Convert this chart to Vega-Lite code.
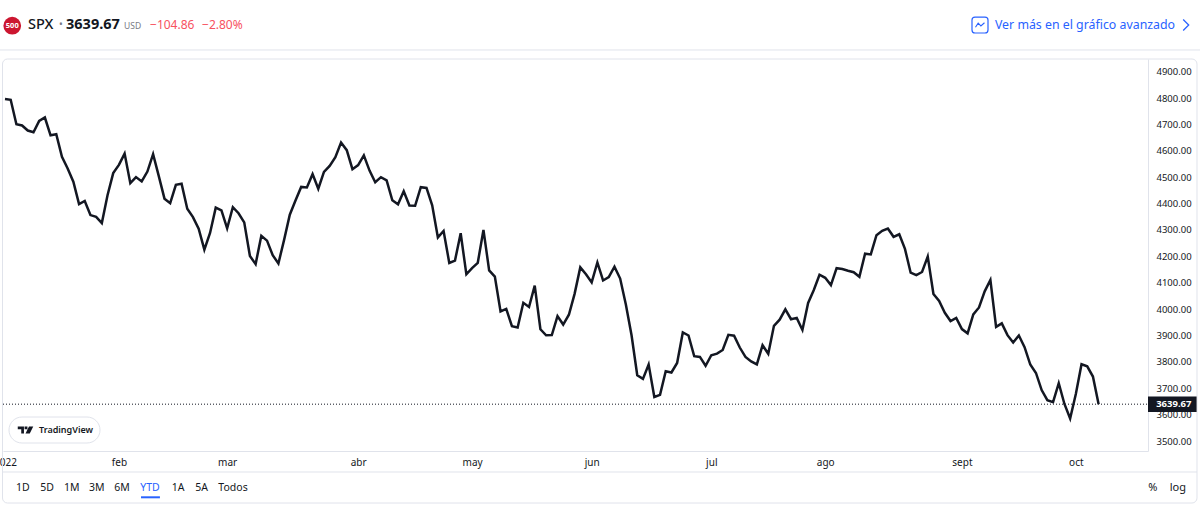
{
  "$schema": "https://vega.github.io/schema/vega-lite/v6.json",
  "description": "SPX year to date, TradingView widget",
  "background": "#ffffff",
  "autosize": {"type": "none"},
  "padding": {"top": 59, "right": 52, "bottom": 57, "left": 3},
  "width": 1145,
  "height": 392,
  "config": {
    "view": {"stroke": null},
    "text": {"font": "Noto Sans", "baseline": "middle", "align": "left"}
  },
  "datasets": {
    "one": [{}],
    "spx": [
      {"session":0,"date":"2022-01-03","close":4796.56},{"session":1,"date":"2022-01-04","close":4793.54},{"session":2,"date":"2022-01-05","close":4700.58},{"session":3,"date":"2022-01-06","close":4696.05},{"session":4,"date":"2022-01-07","close":4677.03},
      {"session":5,"date":"2022-01-10","close":4670.29},{"session":6,"date":"2022-01-11","close":4713.07},{"session":7,"date":"2022-01-12","close":4726.35},{"session":8,"date":"2022-01-13","close":4659.03},{"session":9,"date":"2022-01-14","close":4662.85},
      {"session":10,"date":"2022-01-18","close":4577.11},{"session":11,"date":"2022-01-19","close":4532.76},{"session":12,"date":"2022-01-20","close":4482.73},{"session":13,"date":"2022-01-21","close":4397.94},{"session":14,"date":"2022-01-24","close":4410.13},
      {"session":15,"date":"2022-01-25","close":4356.45},{"session":16,"date":"2022-01-26","close":4349.93},{"session":17,"date":"2022-01-27","close":4326.51},{"session":18,"date":"2022-01-28","close":4431.85},{"session":19,"date":"2022-01-31","close":4515.55},
      {"session":20,"date":"2022-02-01","close":4546.54},{"session":21,"date":"2022-02-02","close":4589.38},{"session":22,"date":"2022-02-03","close":4477.44},{"session":23,"date":"2022-02-04","close":4500.53},{"session":24,"date":"2022-02-07","close":4483.87},
      {"session":25,"date":"2022-02-08","close":4521.54},{"session":26,"date":"2022-02-09","close":4587.18},{"session":27,"date":"2022-02-10","close":4504.08},{"session":28,"date":"2022-02-11","close":4418.64},{"session":29,"date":"2022-02-14","close":4401.67},
      {"session":30,"date":"2022-02-15","close":4471.07},{"session":31,"date":"2022-02-16","close":4475.01},{"session":32,"date":"2022-02-17","close":4380.26},{"session":33,"date":"2022-02-18","close":4348.87},{"session":34,"date":"2022-02-22","close":4304.76},
      {"session":35,"date":"2022-02-23","close":4225.5},{"session":36,"date":"2022-02-24","close":4288.7},{"session":37,"date":"2022-02-25","close":4384.65},{"session":38,"date":"2022-02-28","close":4373.94},{"session":39,"date":"2022-03-01","close":4306.26},
      {"session":40,"date":"2022-03-02","close":4386.54},{"session":41,"date":"2022-03-03","close":4363.49},{"session":42,"date":"2022-03-04","close":4328.87},{"session":43,"date":"2022-03-07","close":4201.09},{"session":44,"date":"2022-03-08","close":4170.7},
      {"session":45,"date":"2022-03-09","close":4277.88},{"session":46,"date":"2022-03-10","close":4259.52},{"session":47,"date":"2022-03-11","close":4204.31},{"session":48,"date":"2022-03-14","close":4173.11},{"session":49,"date":"2022-03-15","close":4262.45},
      {"session":50,"date":"2022-03-16","close":4357.86},{"session":51,"date":"2022-03-17","close":4411.67},{"session":52,"date":"2022-03-18","close":4463.12},{"session":53,"date":"2022-03-21","close":4461.18},{"session":54,"date":"2022-03-22","close":4511.61},
      {"session":55,"date":"2022-03-23","close":4456.24},{"session":56,"date":"2022-03-24","close":4520.16},{"session":57,"date":"2022-03-25","close":4543.06},{"session":58,"date":"2022-03-28","close":4575.52},{"session":59,"date":"2022-03-29","close":4631.6},
      {"session":60,"date":"2022-03-30","close":4602.45},{"session":61,"date":"2022-03-31","close":4530.41},{"session":62,"date":"2022-04-01","close":4545.86},{"session":63,"date":"2022-04-04","close":4582.64},{"session":64,"date":"2022-04-05","close":4525.12},
      {"session":65,"date":"2022-04-06","close":4481.15},{"session":66,"date":"2022-04-07","close":4500.21},{"session":67,"date":"2022-04-08","close":4488.28},{"session":68,"date":"2022-04-11","close":4412.53},{"session":69,"date":"2022-04-12","close":4397.45},
      {"session":70,"date":"2022-04-13","close":4446.59},{"session":71,"date":"2022-04-14","close":4392.59},{"session":72,"date":"2022-04-18","close":4391.69},{"session":73,"date":"2022-04-19","close":4462.21},{"session":74,"date":"2022-04-20","close":4459.45},
      {"session":75,"date":"2022-04-21","close":4393.66},{"session":76,"date":"2022-04-22","close":4271.78},{"session":77,"date":"2022-04-25","close":4296.12},{"session":78,"date":"2022-04-26","close":4175.2},{"session":79,"date":"2022-04-27","close":4183.96},
      {"session":80,"date":"2022-04-28","close":4287.5},{"session":81,"date":"2022-04-29","close":4131.93},{"session":82,"date":"2022-05-02","close":4155.38},{"session":83,"date":"2022-05-03","close":4175.48},{"session":84,"date":"2022-05-04","close":4300.17},
      {"session":85,"date":"2022-05-05","close":4146.87},{"session":86,"date":"2022-05-06","close":4123.34},{"session":87,"date":"2022-05-09","close":3991.24},{"session":88,"date":"2022-05-10","close":4001.05},{"session":89,"date":"2022-05-11","close":3935.18},
      {"session":90,"date":"2022-05-12","close":3930.08},{"session":91,"date":"2022-05-13","close":4023.89},{"session":92,"date":"2022-05-16","close":4008.01},{"session":93,"date":"2022-05-17","close":4088.85},{"session":94,"date":"2022-05-18","close":3923.68},
      {"session":95,"date":"2022-05-19","close":3900.79},{"session":96,"date":"2022-05-20","close":3901.36},{"session":97,"date":"2022-05-23","close":3973.75},{"session":98,"date":"2022-05-24","close":3941.48},{"session":99,"date":"2022-05-25","close":3978.73},
      {"session":100,"date":"2022-05-26","close":4057.84},{"session":101,"date":"2022-05-27","close":4158.24},{"session":102,"date":"2022-05-31","close":4132.15},{"session":103,"date":"2022-06-01","close":4101.23},{"session":104,"date":"2022-06-02","close":4176.82},
      {"session":105,"date":"2022-06-03","close":4108.54},{"session":106,"date":"2022-06-06","close":4121.43},{"session":107,"date":"2022-06-07","close":4160.68},{"session":108,"date":"2022-06-08","close":4115.77},{"session":109,"date":"2022-06-09","close":4017.82},
      {"session":110,"date":"2022-06-10","close":3900.86},{"session":111,"date":"2022-06-13","close":3749.63},{"session":112,"date":"2022-06-14","close":3735.48},{"session":113,"date":"2022-06-15","close":3789.99},{"session":114,"date":"2022-06-16","close":3666.77},
      {"session":115,"date":"2022-06-17","close":3674.84},{"session":116,"date":"2022-06-21","close":3764.79},{"session":117,"date":"2022-06-22","close":3759.89},{"session":118,"date":"2022-06-23","close":3795.73},{"session":119,"date":"2022-06-24","close":3911.74},
      {"session":120,"date":"2022-06-27","close":3900.11},{"session":121,"date":"2022-06-28","close":3821.55},{"session":122,"date":"2022-06-29","close":3818.83},{"session":123,"date":"2022-06-30","close":3785.38},{"session":124,"date":"2022-07-01","close":3825.33},
      {"session":125,"date":"2022-07-05","close":3831.39},{"session":126,"date":"2022-07-06","close":3845.08},{"session":127,"date":"2022-07-07","close":3902.62},{"session":128,"date":"2022-07-08","close":3899.38},{"session":129,"date":"2022-07-11","close":3854.43},
      {"session":130,"date":"2022-07-12","close":3818.8},{"session":131,"date":"2022-07-13","close":3801.78},{"session":132,"date":"2022-07-14","close":3790.38},{"session":133,"date":"2022-07-15","close":3863.16},{"session":134,"date":"2022-07-18","close":3830.85},
      {"session":135,"date":"2022-07-19","close":3936.69},{"session":136,"date":"2022-07-20","close":3959.9},{"session":137,"date":"2022-07-21","close":3998.95},{"session":138,"date":"2022-07-22","close":3961.63},{"session":139,"date":"2022-07-25","close":3966.84},
      {"session":140,"date":"2022-07-26","close":3921.05},{"session":141,"date":"2022-07-27","close":4023.61},{"session":142,"date":"2022-07-28","close":4072.43},{"session":143,"date":"2022-07-29","close":4130.29},{"session":144,"date":"2022-08-01","close":4118.63},
      {"session":145,"date":"2022-08-02","close":4091.19},{"session":146,"date":"2022-08-03","close":4155.17},{"session":147,"date":"2022-08-04","close":4151.94},{"session":148,"date":"2022-08-05","close":4145.19},{"session":149,"date":"2022-08-08","close":4140.06},
      {"session":150,"date":"2022-08-09","close":4122.47},{"session":151,"date":"2022-08-10","close":4210.24},{"session":152,"date":"2022-08-11","close":4207.27},{"session":153,"date":"2022-08-12","close":4280.15},{"session":154,"date":"2022-08-15","close":4297.14},
      {"session":155,"date":"2022-08-16","close":4305.2},{"session":156,"date":"2022-08-17","close":4274.04},{"session":157,"date":"2022-08-18","close":4283.74},{"session":158,"date":"2022-08-19","close":4228.48},{"session":159,"date":"2022-08-22","close":4137.99},
      {"session":160,"date":"2022-08-23","close":4128.73},{"session":161,"date":"2022-08-24","close":4140.77},{"session":162,"date":"2022-08-25","close":4199.12},{"session":163,"date":"2022-08-26","close":4057.66},{"session":164,"date":"2022-08-29","close":4030.61},
      {"session":165,"date":"2022-08-30","close":3986.16},{"session":166,"date":"2022-08-31","close":3955},{"session":167,"date":"2022-09-01","close":3966.85},{"session":168,"date":"2022-09-02","close":3924.26},{"session":169,"date":"2022-09-06","close":3908.19},
      {"session":170,"date":"2022-09-07","close":3979.87},{"session":171,"date":"2022-09-08","close":4006.18},{"session":172,"date":"2022-09-09","close":4067.36},{"session":173,"date":"2022-09-12","close":4110.41},{"session":174,"date":"2022-09-13","close":3932.69},
      {"session":175,"date":"2022-09-14","close":3946.01},{"session":176,"date":"2022-09-15","close":3901.35},{"session":177,"date":"2022-09-16","close":3873.33},{"session":178,"date":"2022-09-19","close":3899.89},{"session":179,"date":"2022-09-20","close":3855.93},
      {"session":180,"date":"2022-09-21","close":3789.93},{"session":181,"date":"2022-09-22","close":3757.99},{"session":182,"date":"2022-09-23","close":3693.23},{"session":183,"date":"2022-09-26","close":3655.04},{"session":184,"date":"2022-09-27","close":3647.29},
      {"session":185,"date":"2022-09-28","close":3719.04},{"session":186,"date":"2022-09-29","close":3640.47},{"session":187,"date":"2022-09-30","close":3585.62},{"session":188,"date":"2022-10-03","close":3678.43},{"session":189,"date":"2022-10-04","close":3790.93},
      {"session":190,"date":"2022-10-05","close":3783.28},{"session":191,"date":"2022-10-06","close":3744.52},{"session":192,"date":"2022-10-07","close":3639.67}
    ]
  },
  "data": {"name": "one"},
  "layer": [
    {
      "data": {"name": "spx"},
      "mark": {"type": "line", "color": "#131722", "strokeWidth": 2.5, "strokeJoin": "miter"},
      "encoding": {
        "x": {
          "field": "session", "type": "quantitative", "title": null,
          "scale": {"domain": [-0.351, 200.67], "nice": false, "zero": false},
          "axis": {
            "values": [0, 20, 39, 62, 82, 103, 124, 144, 168, 188],
            "tickCount": 20,
            "labelExpr": "['2022','feb','mar','abr','may','jun','jul','ago','sept','oct'][indexof([0,20,39,62,82,103,124,144,168,188],datum.value)]",
            "grid": false, "ticks": false, "domain": true, "domainColor": "#e0e3eb",
            "labelOverlap": false, "labelBound": false, "labelFlush": false,
            "labelFont": "Noto Sans", "labelFontSize": 10, "labelColor": "#131722", "labelPadding": 6
          }
        },
        "y": {
          "field": "close", "type": "quantitative", "title": null,
          "scale": {"domain": [3462.2, 4948.1], "nice": false, "zero": false},
          "axis": {
            "orient": "right",
            "values": [3500, 3600, 3700, 3800, 3900, 4000, 4100, 4200, 4300, 4400, 4500, 4600, 4700, 4800, 4900],
            "tickCount": 20,
            "format": ".2f", "grid": false, "ticks": false, "domain": true, "domainColor": "#e0e3eb",
            "labelOverlap": false, "labelBound": false, "labelFlush": false,
            "labelFont": "Noto Sans", "labelFontSize": 9.5, "labelColor": "#131722", "labelPadding": 8
          }
        }
      }
    },
    {"mark": {"type": "rule", "color": "#131722", "strokeDash": [1, 2], "strokeWidth": 1},
      "encoding": {"x": {"datum": -0.351}, "x2": {"datum": 200.67}, "y": {"datum": 3639.67}}},
    {"mark": {"type": "rule", "color": "#e0e3eb"},
      "encoding": {"x": {"datum": -0.878}, "x2": {"datum": 209.8}, "y": {"datum": 4982.3}}},
    {"mark": {"type": "rule", "color": "#e0e3eb"},
      "encoding": {"x": {"datum": -0.351}, "x2": {"datum": 209.27}, "y": {"datum": 3382.6}}},
    {"mark": {"type": "rect", "fillOpacity": 0, "stroke": "#e0e3eb", "cornerRadius": 5},
      "encoding": {"x": {"datum": -0.44}, "x2": {"datum": 209.27}, "y": {"datum": 3265}, "y2": {"datum": 4948.1}}},
    {"mark": {"type": "rect", "fill": "#131722"},
      "encoding": {"x": {"datum": 200.67}, "x2": {"datum": 209.2}, "y": {"datum": 3610}, "y2": {"datum": 3669}}},
    {"mark": {"type": "text", "text": "3639.67", "color": "#ffffff", "fontSize": 9.5, "fontWeight": "bold"},
      "encoding": {"x": {"datum": 202.1}, "y": {"datum": 3639.67}}},
    {"mark": {"type": "point", "shape": "circle", "filled": true, "color": "#cc1630", "opacity": 1, "size": 314},
      "encoding": {"x": {"datum": 1.27}, "y": {"datum": 5074.5}}},
    {"mark": {"type": "text", "text": "500", "align": "center", "color": "#ffffff", "fontSize": 7.5, "fontWeight": "bold"},
      "encoding": {"x": {"datum": 1.27}, "y": {"datum": 5074.5}}},
    {"mark": {"type": "text", "text": "SPX", "color": "#131722", "fontSize": 14.5, "fontWeight": 500},
      "encoding": {"x": {"datum": 4.04}, "y": {"datum": 5077}}},
    {"mark": {"type": "text", "text": "•", "color": "#787b86", "fontSize": 10},
      "encoding": {"x": {"datum": 9.48}, "y": {"datum": 5077}}},
    {"mark": {"type": "text", "text": "3639.67", "color": "#131722", "fontSize": 14.5, "fontWeight": "bold"},
      "encoding": {"x": {"datum": 10.71}, "y": {"datum": 5077}}},
    {"mark": {"type": "text", "text": "USD", "color": "#787b86", "fontSize": 8.5},
      "encoding": {"x": {"datum": 20.9}, "y": {"datum": 5074}}},
    {"mark": {"type": "text", "text": "−104.86", "color": "#f7525f", "fontSize": 12},
      "encoding": {"x": {"datum": 25.46}, "y": {"datum": 5077}}},
    {"mark": {"type": "text", "text": "−2.80%", "color": "#f7525f", "fontSize": 12},
      "encoding": {"x": {"datum": 34.59}, "y": {"datum": 5077}}},
    {"mark": {"type": "rect", "fillOpacity": 0, "stroke": "#2962ff", "strokeWidth": 1.2, "cornerRadius": 3},
      "encoding": {"x": {"datum": 169.77}, "x2": {"datum": 172.58}, "y": {"datum": 5046.7}, "y2": {"datum": 5107}}},
    {"mark": {"type": "point", "shape": "M-1,0.5L-0.4,-0.4L0.2,0.2L1,-0.5", "filled": false, "color": "#2962ff", "opacity": 1, "strokeWidth": 1.1, "size": 81},
      "encoding": {"x": {"datum": 171.17}, "y": {"datum": 5077}}},
    {"mark": {"type": "text", "text": "Ver más en el gráfico avanzado", "color": "#2962ff", "fontSize": 12.35},
      "encoding": {"x": {"datum": 173.8}, "y": {"datum": 5077}}},
    {"mark": {"type": "point", "shape": "M-0.5,-1L0.5,0L-0.5,1", "filled": false, "color": "#2962ff", "opacity": 1, "strokeWidth": 1.3, "size": 121},
      "encoding": {"x": {"datum": 207.33}, "y": {"datum": 5077}}},
    {"mark": {"type": "rect", "fill": "#ffffff", "stroke": "#e0e3eb", "cornerRadius": 13},
      "encoding": {"x": {"datum": 0.7}, "x2": {"datum": 16.68}, "y": {"datum": 3492.5}, "y2": {"datum": 3591}}},
    {"mark": {"type": "point", "shape": "M-1,-0.45H-0.2V0.45H-0.55V-0.1H-1ZM-0.12,-0.45H0.25V-0.08H-0.12ZM0.45,-0.45H1L0.55,0.45H0Z", "filled": true, "color": "#131722", "opacity": 1, "size": 240},
      "encoding": {"x": {"datum": 3.6}, "y": {"datum": 3542}}},
    {"mark": {"type": "text", "text": "TradingView", "color": "#131722", "fontSize": 9, "fontWeight": 600},
      "encoding": {"x": {"datum": 5.97}, "y": {"datum": 3542}}},
    {"mark": {"type": "text", "text": "1D", "align": "center", "color": "#131722", "fontSize": 10.5},
      "encoding": {"x": {"datum": 3.11}, "y": {"datum": 3322}}},
    {"mark": {"type": "text", "text": "5D", "align": "center", "color": "#131722", "fontSize": 10.5},
      "encoding": {"x": {"datum": 7.37}, "y": {"datum": 3322}}},
    {"mark": {"type": "text", "text": "1M", "align": "center", "color": "#131722", "fontSize": 10.5},
      "encoding": {"x": {"datum": 11.71}, "y": {"datum": 3322}}},
    {"mark": {"type": "text", "text": "3M", "align": "center", "color": "#131722", "fontSize": 10.5},
      "encoding": {"x": {"datum": 16.1}, "y": {"datum": 3322}}},
    {"mark": {"type": "text", "text": "6M", "align": "center", "color": "#131722", "fontSize": 10.5},
      "encoding": {"x": {"datum": 20.54}, "y": {"datum": 3322}}},
    {"mark": {"type": "text", "text": "YTD", "align": "center", "color": "#2962ff", "fontSize": 10.5},
      "encoding": {"x": {"datum": 25.46}, "y": {"datum": 3322}}},
    {"mark": {"type": "rule", "color": "#2962ff", "strokeWidth": 2},
      "encoding": {"x": {"datum": 23.88}, "x2": {"datum": 27.2}, "y": {"datum": 3286.7}}},
    {"mark": {"type": "text", "text": "1A", "align": "center", "color": "#131722", "fontSize": 10.5},
      "encoding": {"x": {"datum": 30.37}, "y": {"datum": 3322}}},
    {"mark": {"type": "text", "text": "5A", "align": "center", "color": "#131722", "fontSize": 10.5},
      "encoding": {"x": {"datum": 34.53}, "y": {"datum": 3322}}},
    {"mark": {"type": "text", "text": "Todos", "align": "center", "color": "#131722", "fontSize": 10.5},
      "encoding": {"x": {"datum": 40.03}, "y": {"datum": 3322}}},
    {"mark": {"type": "text", "text": "%", "align": "center", "color": "#131722", "fontSize": 11},
      "encoding": {"x": {"datum": 201.5}, "y": {"datum": 3322}}},
    {"mark": {"type": "text", "text": "log", "align": "center", "color": "#131722", "fontSize": 11},
      "encoding": {"x": {"datum": 205.9}, "y": {"datum": 3322}}}
  ]
}
